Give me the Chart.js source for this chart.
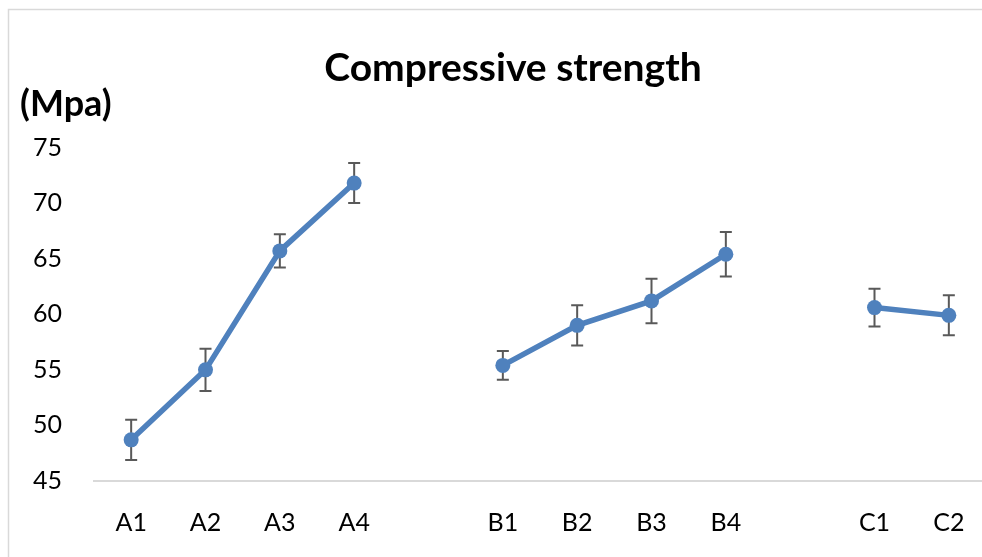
<!DOCTYPE html>
<html>
<head>
<meta charset="utf-8">
<script src="https://cdn.jsdelivr.net/npm/chart.js@4.4.0/dist/chart.umd.min.js"></script>
<style>
  html, body { margin: 0; padding: 0; background: #fff; overflow: hidden; }
  #clip { position: relative; width: 982px; height: 557px; overflow: hidden; }
  #wrap { position: absolute; left: 0; top: 0; width: 1026px; height: 557px; }
</style>
</head>
<body>
<div id="clip"><div id="wrap"><canvas id="chart"></canvas></div></div>
<script>
// ── Data ──────────────────────────────────────────────────────
const categories = ['A1', 'A2', 'A3', 'A4', '', 'B1', 'B2', 'B3', 'B4', '', 'C1', 'C2'];
const strength   = [48.7, 55.0, 65.7, 71.8, null, 55.4, 59.0, 61.2, 65.4, null, 60.6, 59.9];
const errors     = [1.8, 1.9, 1.5, 1.8, null, 1.3, 1.8, 2.0, 2.0, null, 1.7, 1.8];
const yTicks     = [45, 50, 55, 60, 65, 70, 75];

const chartTitle = 'Compressive strength';
const unitText   = '(Mpa)';

const FONT = 'Lato, "Open Sans", sans-serif';

// ── Chart frame (left and top edges only are in view) ─────────
const frame = {
  id: 'frame',
  beforeDraw(chart) {
    const ctx = chart.ctx;
    ctx.save();
    ctx.strokeStyle = '#d9d9d9';
    ctx.lineWidth = 1.5;
    ctx.beginPath();
    ctx.moveTo(8.5, chart.height);
    ctx.lineTo(8.5, 9.5);
    ctx.lineTo(chart.width, 9.5);
    ctx.stroke();
    ctx.restore();
  }
};

// ── Error bars (drawn under the line) ─────────────────────────
const errorBars = {
  id: 'errorBars',
  beforeDatasetsDraw(chart) {
    const { ctx, scales: { x, y } } = chart;
    ctx.save();
    ctx.strokeStyle = '#595959';
    ctx.lineWidth = 2;
    strength.forEach((v, i) => {
      if (v == null) return;
      const px  = x.getPixelForValue(i);
      const top = y.getPixelForValue(v + errors[i]);
      const bot = y.getPixelForValue(v - errors[i]);
      ctx.beginPath();
      ctx.moveTo(px, top); ctx.lineTo(px, bot);
      ctx.moveTo(px - 6, top); ctx.lineTo(px + 6, top);
      ctx.moveTo(px - 6, bot); ctx.lineTo(px + 6, bot);
      ctx.stroke();
    });
    ctx.restore();
  }
};

// ── Title (centred on the whole frame) and unit label ─────────
const headings = {
  id: 'headings',
  afterDraw(chart) {
    const ctx = chart.ctx;
    ctx.save();
    ctx.fillStyle = '#000';

    ctx.font = 'bold 39px ' + FONT;
    ctx.textAlign = 'center';
    ctx.textBaseline = 'middle';
    ctx.fillText(chartTitle, 513, 68);

    ctx.font = 'bold 36px ' + FONT;
    ctx.textAlign = 'left';
    ctx.textBaseline = 'alphabetic';
    ctx.fillText(unitText, 20, 116);
    ctx.restore();
  }
};

new Chart(document.getElementById('chart'), {
  type: 'line',
  data: {
    labels: categories,
    datasets: [{
      data: strength,
      borderColor: '#4f81bd',
      backgroundColor: '#4f81bd',
      borderWidth: 5.5,
      pointRadius: 7.5,
      pointBackgroundColor: '#4f81bd',
      pointBorderWidth: 0,
      spanGaps: false,
      tension: 0
    }]
  },
  options: {
    responsive: true,
    maintainAspectRatio: false,
    animation: false,
    layout: { padding: { top: 147.5, right: 40, left: 0, bottom: 0 } },
    plugins: {
      legend: { display: false },
      tooltip: { enabled: false },
      title: { display: false }
    },
    scales: {
      x: {
        offset: true,
        grid: { display: false, drawTicks: false, offset: true },
        border: { color: '#d9d9d9', width: 2 },
        ticks: { color: '#000', font: { family: FONT, size: 25 }, padding: 27, maxRotation: 0, autoSkip: false },
        afterFit: s => { s.height = 76; }
      },
      y: {
        min: 45,
        max: 75,
        grid: { display: false, drawTicks: false },
        border: { display: false },
        ticks: { color: '#000', font: { family: FONT, size: 25 }, padding: 32 },
        afterBuildTicks: s => { s.ticks = yTicks.map(v => ({ value: v })); },
        afterFit: s => { s.width = 94; }
      }
    }
  },
  plugins: [frame, errorBars, headings]
});
</script>
</body>
</html>
